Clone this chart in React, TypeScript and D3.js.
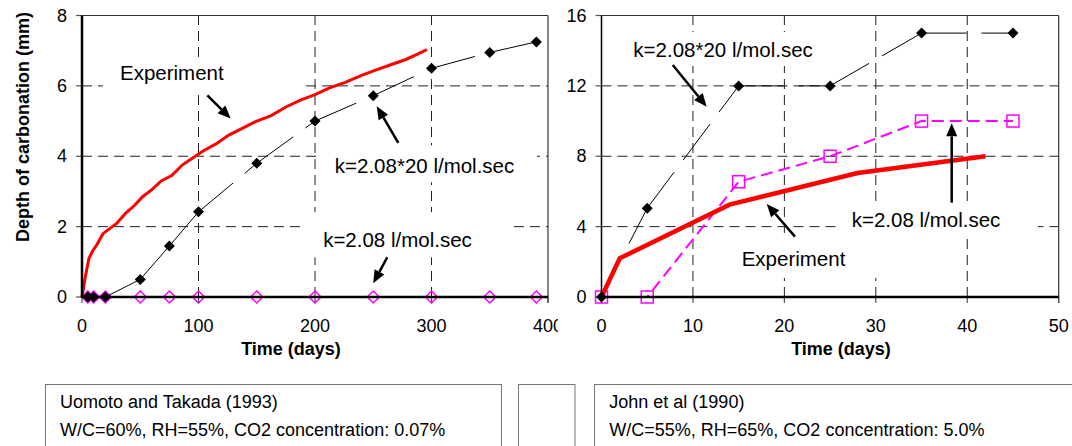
import React from 'react';
import * as d3 from 'd3';

// Uomoto and Takada (1993) - left panel
const expDaysL = [0, 3, 6, 9, 13, 18, 24, 30, 38, 45, 52, 60, 68, 77, 86, 95, 104, 115, 126, 138, 150, 162, 175, 188, 200, 213, 226, 240, 252, 265, 278, 288, 296];
const expDepthL = [0, 0.6, 1.1, 1.3, 1.5, 1.8, 1.95, 2.1, 2.4, 2.6, 2.85, 3.05, 3.3, 3.45, 3.75, 3.95, 4.15, 4.35, 4.6, 4.8, 5.0, 5.15, 5.4, 5.6, 5.75, 5.95, 6.1, 6.3, 6.45, 6.6, 6.75, 6.9, 7.03];
const simDaysL = [5, 10, 20, 50, 75, 100, 150, 200, 250, 300, 350, 390];
const simHighL = [0, 0, 0, 0.5, 1.45, 2.42, 3.8, 5.0, 5.72, 6.5, 6.95, 7.25];
const simLowL = [0, 0, 0, 0, 0, 0, 0, 0, 0, 0, 0, 0];

// John et al (1990) - right panel
const expDaysR = [0, 2, 14, 28, 42];
const expDepthR = [0, 2.2, 5.25, 7.05, 8.0];
const simDaysR = [0, 5, 15, 25, 35, 45];
const simHighR = [0, 5.05, 12, 12, 15, 15];
const simLowR = [0, 0, 6.55, 8, 10, 10];

const ticksXL = [0, 100, 200, 300, 400];
const ticksYL = [0, 2, 4, 6, 8];
const ticksXR = [0, 10, 20, 30, 40, 50];
const ticksYR = [0, 4, 8, 12, 16];

const FONT = "'Liberation Sans', Arial, sans-serif";

type Note = {
  text: string;
  tx: number; ty: number;
  from: [number, number]; to: [number, number];
  box: [number, number, number, number];
};

const notesL: Note[] = [
  { text: 'Experiment', tx: 32.6, ty: 6.38, from: [107.6, 5.73], to: [127.6, 5.07], box: [18, 190.6, 6.78, 5.79] },
  { text: 'k=2.08*20 l/mol.sec', tx: 217, ty: 3.74, from: [271.5, 4.38], to: [253, 5.42], box: [201.7, 390.6, 4.31, 3.26] },
  { text: 'k=2.08 l/mol.sec', tx: 207, ty: 1.62, from: [262, 1.13], to: [250, 0.39], box: [191.4, 368.2, 2.41, 1.13] },
];
const notesR: Note[] = [
  { text: 'k=2.08*20 l/mol.sec', tx: 3.48, ty: 14.08, from: [7.79, 13.19], to: [11.5, 10.82], box: [2.02, 23.9, 15.06, 13.13] },
  { text: 'Experiment', tx: 15.33, ty: 2.16, from: [21.16, 3.43], to: [18.07, 5.29], box: [14.6, 30.5, 3.35, 1.08] },
  { text: 'k=2.08 l/mol.sec', tx: 27.36, ty: 4.42, from: [38.3, 5.36], to: [38.3, 9.87], box: [25.9, 47.7, 5.29, 3.47] },
];

type Lin = d3.ScaleLinear<number, number>;

const Arrow = ({ x1, y1, x2, y2 }: { x1: number; y1: number; x2: number; y2: number }) => {
  const a = Math.atan2(y2 - y1, x2 - x1);
  const len = 13, hw = 5.5;
  const bx = x2 - len * Math.cos(a), by = y2 - len * Math.sin(a);
  const px = -Math.sin(a) * hw, py = Math.cos(a) * hw;
  return (
    <g>
      <line x1={x1} y1={y1} x2={bx} y2={by} stroke="#000" strokeWidth={2.5} />
      <path d={`M${x2},${y2}L${bx + px},${by + py}L${bx - px},${by - py}Z`} fill="#000" />
    </g>
  );
};

const diamond = (cx: number, cy: number, r: number) => `M${cx},${cy - r}L${cx + r},${cy}L${cx},${cy + r}L${cx - r},${cy}Z`;

const Grid = ({ x, y, xt, yt }: { x: Lin; y: Lin; xt: number[]; yt: number[] }) => {
  const [x0, x1] = x.range();
  const [y0, y1] = y.range();
  return (
    <g>
      {yt.slice(1, -1).map((t) => (
        <line key={'gy' + t} x1={x0} x2={x1} y1={y(t)} y2={y(t)} stroke="#222" strokeDasharray="10,6" />
      ))}
      {xt.slice(1, -1).map((t) => (
        <line key={'gx' + t} x1={x(t)} x2={x(t)} y1={y0} y2={y1} stroke="#222" strokeDasharray="10,6" />
      ))}
    </g>
  );
};

const Axes = ({ x, y, xt, yt, thickY }: { x: Lin; y: Lin; xt: number[]; yt: number[]; thickY: boolean }) => {
  const [x0, x1] = x.range();
  const [y0, y1] = y.range();
  return (
    <g fontFamily={FONT} fontSize={18} fill="#000">
      <line x1={x0} x2={x1} y1={y1} y2={y1} stroke="#333" strokeWidth={1.2} />
      <line x1={x1} x2={x1} y1={y1} y2={y0 + 6} stroke="#333" strokeWidth={1.2} />
      {yt.map((t) => (
        <line key={'ty' + t} x1={x0 - 6} x2={x0} y1={y(t)} y2={y(t)} stroke="#555" strokeWidth={1.2} />
      ))}
      {xt.map((t) => (
        <line key={'tx' + t} x1={x(t)} x2={x(t)} y1={y0} y2={y0 + 6} stroke="#555" strokeWidth={1.2} />
      ))}
      <line x1={x0} x2={x0} y1={y1} y2={y0 + 1} stroke="#000" strokeWidth={thickY ? 2.5 : 1.5} />
      <line x1={x0 - 1} x2={x1} y1={y0} y2={y0} stroke="#000" strokeWidth={2.5} />
      {yt.map((t) => (
        <text key={'ly' + t} x={x0 - 15} y={y(t)} textAnchor="end" dominantBaseline="central">{t}</text>
      ))}
      {xt.map((t) => (
        <text key={'lx' + t} x={x(t)} y={y0 + 29} textAnchor="middle" dominantBaseline="central">{t}</text>
      ))}
    </g>
  );
};

const NoteBoxes = ({ x, y, notes }: { x: Lin; y: Lin; notes: Note[] }) => (
  <g>
    {notes.map((n, i) => (
      <rect key={i} x={x(n.box[0])} y={y(n.box[2])} width={x(n.box[1]) - x(n.box[0])} height={y(n.box[3]) - y(n.box[2])} fill="#fff" />
    ))}
  </g>
);

const NoteLabels = ({ x, y, notes }: { x: Lin; y: Lin; notes: Note[] }) => (
  <g fontFamily={FONT} fontSize={20.5} fill="#000">
    {notes.map((n, i) => (
      <g key={i}>
        <text x={x(n.tx)} y={y(n.ty)} dominantBaseline="central">{n.text}</text>
        <Arrow x1={x(n.from[0])} y1={y(n.from[1])} x2={x(n.to[0])} y2={y(n.to[1])} />
      </g>
    ))}
  </g>
);

// each segment restarts the long-dash pattern like the original
const dashedSegments = (xs: number[], ys: number[], x: Lin, y: Lin) =>
  xs.slice(1).map((_, i) => `M${x(xs[i])},${y(ys[i])}L${x(xs[i + 1])},${y(ys[i + 1])}`);

export default function App() {
  const xL = d3.scaleLinear().domain([0, 400]).range([82, 548]);
  const yL = d3.scaleLinear().domain([0, 8]).range([297, 15.5]);
  const xR = d3.scaleLinear().domain([0, 50]).range([601.5, 1058.7]);
  const yR = d3.scaleLinear().domain([0, 16]).range([297, 15.5]);

  const lineL = d3.line<number>().x((_, i) => xL(expDaysL[i])).y((d) => yL(d));
  const lineR = d3.line<number>().x((_, i) => xR(expDaysR[i])).y((d) => yR(d));
  const lowR = d3.line<number>().x((_, i) => xR(simDaysR[i])).y((d) => yR(d));

  return (
    <svg width={1072} height={446} style={{ position: 'absolute', left: 0, top: 0, background: '#fff' }}>
      <rect width={1072} height={446} fill="#fff" />

      {/* left panel */}
      <Grid x={xL} y={yL} xt={ticksXL} yt={ticksYL} />
      <NoteBoxes x={xL} y={yL} notes={notesL} />
      {simDaysL.map((d, i) => (
        <path key={'ml' + i} d={diamond(xL(d), yL(simLowL[i]), 6)} fill="none" stroke="#ff00ff" strokeWidth={1.5} />
      ))}
      {dashedSegments(simDaysL, simHighL, xL, yL).map((p, i) => (
        <path key={'bl' + i} d={p} fill="none" stroke="#000" strokeWidth={1} strokeDasharray="45,15" />
      ))}
      <path d={lineL(expDepthL) || ''} fill="none" stroke="#ff0000" strokeWidth={3} />
      <Axes x={xL} y={yL} xt={ticksXL} yt={ticksYL} thickY />
      {simDaysL.map((d, i) => (
        <path key={'dl' + i} d={diamond(xL(d), yL(simHighL[i]), 5.5)} fill="#000" />
      ))}
      <NoteLabels x={xL} y={yL} notes={notesL} />
      <text transform="translate(23,127) rotate(-90)" textAnchor="middle" dominantBaseline="central" fontFamily={FONT} fontSize={18} fontWeight="bold">Depth of carbonation (mm)</text>
      <text x={291} y={349} textAnchor="middle" dominantBaseline="central" fontFamily={FONT} fontSize={18} fontWeight="bold">Time (days)</text>

      {/* right panel sits over the edge of the left one */}
      <rect x={558} y={0} width={514} height={372} fill="#fff" />
      <Grid x={xR} y={yR} xt={ticksXR} yt={ticksYR} />
      <NoteBoxes x={xR} y={yR} notes={notesR} />
      <path d={lowR(simLowR) || ''} fill="none" stroke="#ff00ff" strokeWidth={2} strokeDasharray="12,6" />
      {simDaysR.map((d, i) => (
        <rect key={'sq' + i} x={xR(d) - 6} y={yR(simLowR[i]) - 6} width={12} height={12} fill="none" stroke="#ff00ff" strokeWidth={1.5} />
      ))}
      {dashedSegments(simDaysR, simHighR, xR, yR).map((p, i) => (
        <path key={'br' + i} d={p} fill="none" stroke="#000" strokeWidth={1} strokeDasharray="45,15" />
      ))}
      <path d={lineR(expDepthR) || ''} fill="none" stroke="#ff0000" strokeWidth={4.5} />
      <Axes x={xR} y={yR} xt={ticksXR} yt={ticksYR} thickY={false} />
      {simDaysR.map((d, i) => (
        <path key={'dr' + i} d={diamond(xR(d), yR(simHighR[i]), 5.5)} fill="#000" />
      ))}
      <NoteLabels x={xR} y={yR} notes={notesR} />
      <text x={841} y={349} textAnchor="middle" dominantBaseline="central" fontFamily={FONT} fontSize={18} fontWeight="bold">Time (days)</text>

      {/* source boxes */}
      <g fontFamily={FONT} fontSize={18} fill="#000">
        <rect x={45.5} y={384.5} width={456} height={80} fill="#fff" stroke="#777" />
        <text x={60} y={401.7} dominantBaseline="central">Uomoto and Takada (1993)</text>
        <text x={60} y={430} dominantBaseline="central">W/C=60%, RH=55%, CO2 concentration: 0.07%</text>
        <rect x={518.5} y={384.5} width={56.5} height={80} fill="#fff" stroke="#777" />
        <rect x={594.5} y={384.5} width={500} height={80} fill="#fff" stroke="#777" />
        <text x={609.3} y={401.7} dominantBaseline="central">John et al (1990)</text>
        <text x={609.3} y={430} dominantBaseline="central">W/C=55%, RH=65%, CO2 concentration: 5.0%</text>
      </g>
    </svg>
  );
}
